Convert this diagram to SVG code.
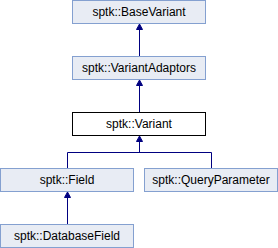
<svg xmlns="http://www.w3.org/2000/svg" width="278" height="248" viewBox="0 0 278 248">
<style>
.n rect{fill:#E8ECF4;stroke:#84A0D0;stroke-width:1}
.c rect{fill:#FFFFFF;stroke:#000000;stroke-width:1}
text{font-family:"Liberation Sans",Arial,sans-serif;font-size:12px;fill:#000;text-anchor:middle}
.e line,.e polyline{stroke:#000080;stroke-width:1;fill:none}
.e polygon{fill:#000080;stroke:#000080;stroke-width:1}
</style>
<rect width="278" height="248" fill="#FFFFFF"/>
<g class="e" id="connectors">
<line x1="139.5" y1="29" x2="139.5" y2="56.5"/>
<polygon points="139.5,24 136.5,29.5 142.5,29.5"/>
<line x1="139.5" y1="85" x2="139.5" y2="112.5"/>
<polygon points="139.5,80 136.5,85.5 142.5,85.5"/>
<polyline points="67.5,168.5 67.5,152.5 211.5,152.5 211.5,168.5"/>
<line x1="139.5" y1="141" x2="139.5" y2="152.5"/>
<polygon points="139.5,136 136.5,141.5 142.5,141.5"/>
<line x1="67.5" y1="197" x2="67.5" y2="224.5"/>
<polygon points="67.5,192 64.5,197.5 70.5,197.5"/>
</g>
<g class="n" id="BaseVariant"><rect x="72.5" y="0.5" width="133" height="23"/><text x="139" y="16">sptk::BaseVariant</text></g>
<g class="n" id="VariantAdaptors"><rect x="72.5" y="56.5" width="133" height="23"/><text x="139" y="72">sptk::VariantAdaptors</text></g>
<g class="c" id="Variant"><rect x="72.5" y="112.5" width="133" height="23"/><text x="139" y="128">sptk::Variant</text></g>
<g class="n" id="Field"><rect x="0.5" y="168.5" width="133" height="23"/><text x="67" y="184">sptk::Field</text></g>
<g class="n" id="QueryParameter"><rect x="144.5" y="168.5" width="133" height="23"/><text x="211" y="184">sptk::QueryParameter</text></g>
<g class="n" id="DatabaseField"><rect x="0.5" y="224.5" width="133" height="23"/><text x="67" y="240">sptk::DatabaseField</text></g>
</svg>
